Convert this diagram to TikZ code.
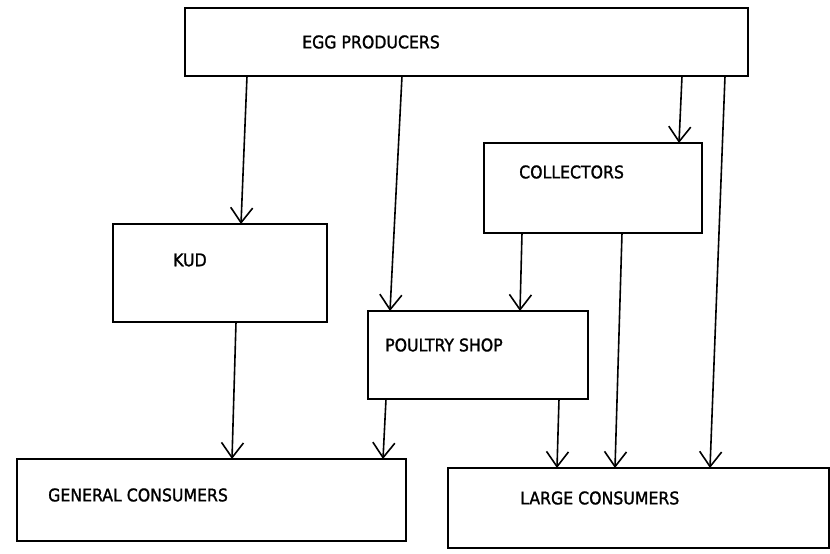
\documentclass[tikz,border=0pt]{standalone}
\usepackage{fontspec}
\newfontfamily\labelfont[FakeBold=1.3]{DejaVu Sans Condensed}
\usetikzlibrary{arrows.meta}
\begin{document}
\begin{tikzpicture}[x=1pt,y=-1pt,
  box/.style={draw=black, line width=1.7pt, rectangle, inner sep=0pt, outer sep=0pt,
              anchor=north west},
  lbl/.style={anchor=west, inner sep=0pt, font=\labelfont\fontsize{17.5}{20}\selectfont},
  flow/.style={draw=black, line width=1.6pt,
               -{Straight Barb[length=15pt, width=22pt, line width=1.6pt]}}]
  \useasboundingbox (0,0) rectangle (830,554);

  % boxes
  \node[box, minimum width=563pt, minimum height=68pt] (egg)   at (185,8)   {};
  \node[box, minimum width=218pt, minimum height=90pt] (coll)  at (484,143) {};
  \node[box, minimum width=214pt, minimum height=98pt] (kud)   at (113,224) {};
  \node[box, minimum width=220pt, minimum height=88pt] (shop)  at (368,311) {};
  \node[box, minimum width=389pt, minimum height=82pt] (gen)   at (17,459)  {};
  \node[box, minimum width=381pt, minimum height=80pt] (large) at (448,468) {};

  % labels
  \node[lbl] (eggtxt)   at (302,42)  {EGG PRODUCERS};
  \node[lbl] (colltxt)  at (519,172) {COLLECTORS};
  \node[lbl] (kudtxt)   at (173,260) {KUD};
  \node[lbl] (shoptxt)  at (385,345) {POULTRY SHOP};
  \node[lbl] (gentxt)   at (48,495)  {GENERAL CONSUMERS};
  \node[lbl] (largetxt) at (520,498) {LARGE CONSUMERS};

  % flows from the producers
  \draw[flow] ([xshift=62pt]egg.south west)  -- ([xshift=128pt]kud.north west);
  \draw[flow] ([xshift=217pt]egg.south west) -- ([xshift=22pt]shop.north west);
  \draw[flow] ([xshift=497pt]egg.south west) -- ([xshift=195pt]coll.north west);
  \draw[flow] ([xshift=540pt]egg.south west) -- ([xshift=262pt]large.north west);

  % flows from the collectors
  \draw[flow] ([xshift=38pt]coll.south west)  -- ([xshift=152pt]shop.north west);
  \draw[flow] ([xshift=138pt]coll.south west) -- ([xshift=167pt]large.north west);

  % flows to the consumers
  \draw[flow] ([xshift=123pt]kud.south west) -- ([xshift=215pt]gen.north west);
  \draw[flow] ([xshift=18pt]shop.south west) -- ([xshift=366pt]gen.north west);
  \draw[flow] ([xshift=191pt]shop.south west) -- ([xshift=109pt]large.north west);
\end{tikzpicture}
\end{document}
